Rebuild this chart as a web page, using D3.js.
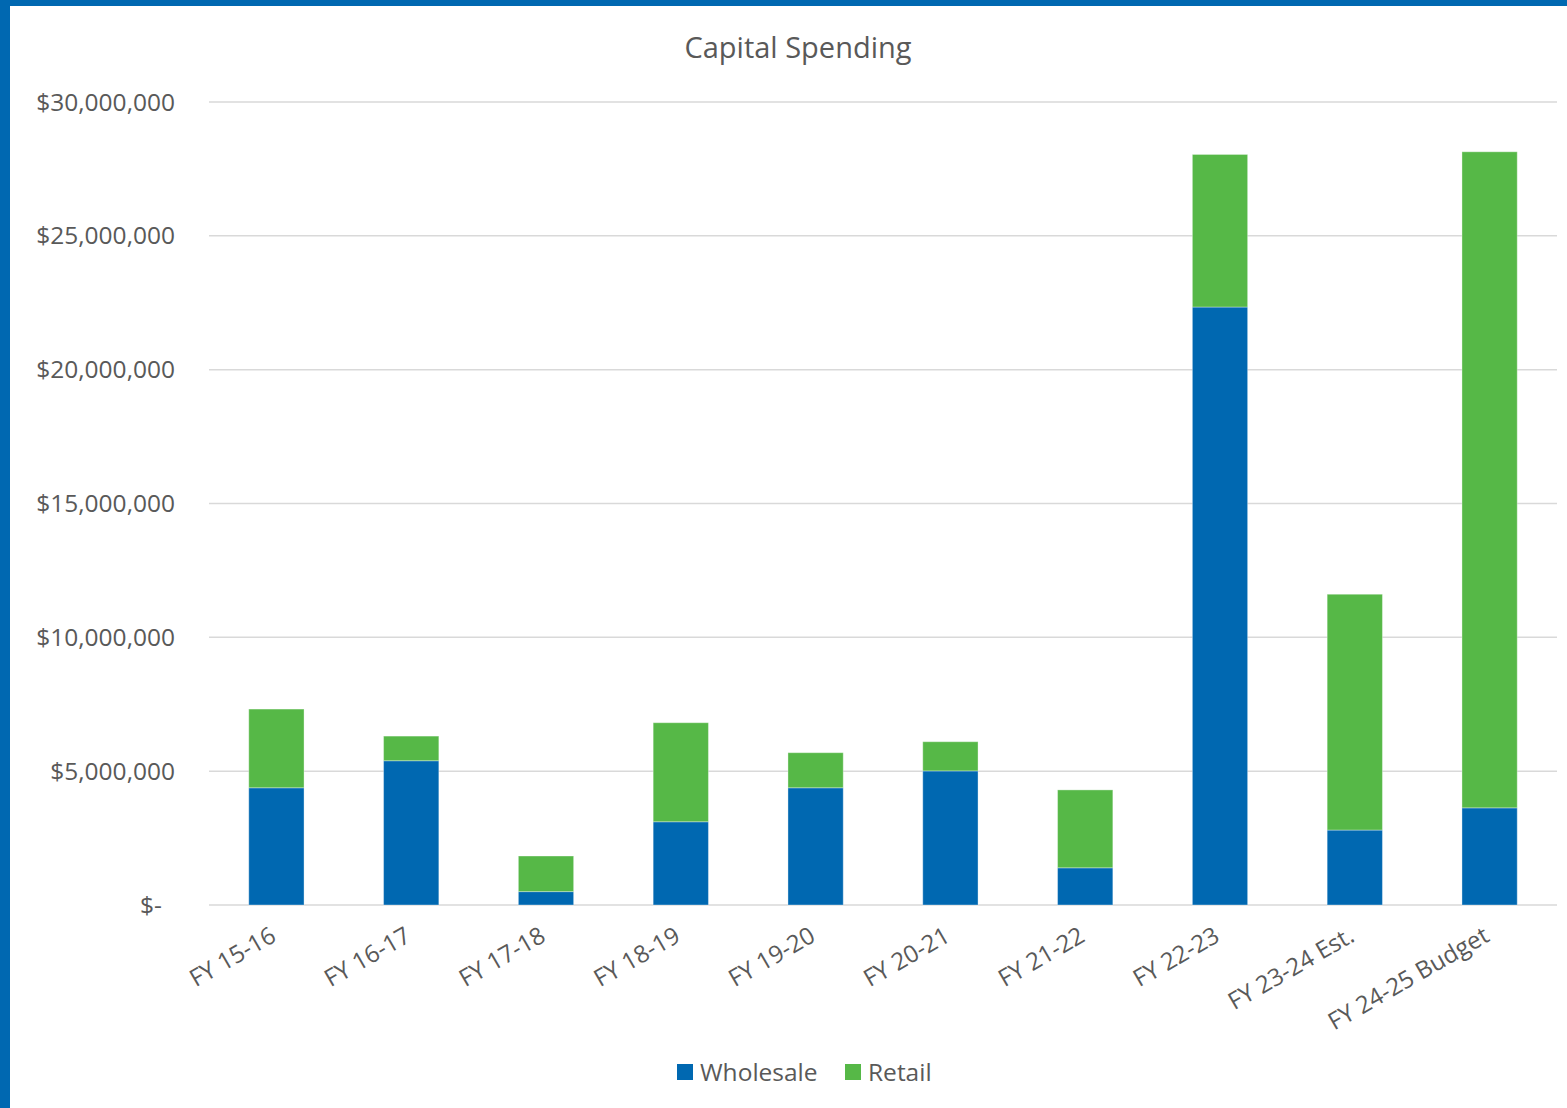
<!DOCTYPE html>
<html>
<head>
<meta charset="utf-8">
<script src="https://cdn.jsdelivr.net/npm/d3@7"></script>
<style>
  html, body { margin: 0; padding: 0; background: #fff; }
  svg { display: block; font-family: "Open Sans", sans-serif; }
</style>
</head>
<body>
<svg id="chart" width="1567" height="1108"></svg>
<script>
const categories = ["FY 15-16", "FY 16-17", "FY 17-18", "FY 18-19", "FY 19-20", "FY 20-21", "FY 21-22", "FY 22-23", "FY 23-24 Est.", "FY 24-25 Budget"];
const wholesale = [4380000, 5390000, 500000, 3110000, 4380000, 5010000, 1390000, 22340000, 2800000, 3630000];
const retail    = [2940000, 920000, 1330000, 3700000, 1310000, 1090000, 2910000, 5700000, 8810000, 24510000];
const seriesNames = ["Wholesale", "Retail"];
const yTicks = [0, 5000000, 10000000, 15000000, 20000000, 25000000, 30000000];
const title = "Capital Spending";

const colors = { Wholesale: "#0068B1", Retail: "#56B847" };
const textColor = "#595959";

const W = 1567, H = 1108;
const margin = { left: 209, right: 10, top: 102, bottom: 203 };
const svg = d3.select("#chart");

svg.append("rect").attr("x", 0).attr("y", 0).attr("width", W).attr("height", H).attr("fill", "#fff");

const x = d3.scaleBand().domain(categories).range([margin.left, W - margin.right]).paddingInner(0.59).paddingOuter(0.295);
const y = d3.scaleLinear().domain([0, 30000000]).range([H - margin.bottom, margin.top]);

// gridlines
svg.append("g").selectAll("line").data(yTicks).join("line")
  .attr("x1", margin.left).attr("x2", W - margin.right)
  .attr("y1", d => y(d)).attr("y2", d => y(d))
  .attr("stroke", "#d9d9d9").attr("stroke-width", 1.5);

// y labels
const fmt = d => d === 0 ? "$-" : "$" + d3.format(",")(d);
svg.append("g").selectAll("text").data(yTicks).join("text")
  .attr("x", d => d === 0 ? 162 : 175)
  .attr("y", d => y(d))
  .attr("dy", "0.35em")
  .attr("text-anchor", "end")
  .attr("font-size", 24.5)
  .attr("fill", textColor)
  .text(fmt);

// stacked bars
const table = categories.map((c, i) => ({ cat: c, Wholesale: wholesale[i], Retail: retail[i] }));
const stacked = d3.stack().keys(seriesNames)(table);
svg.append("g").selectAll("g").data(stacked).join("g")
  .attr("fill", d => colors[d.key])
  .selectAll("rect").data(d => d).join("rect")
  .attr("x", d => x(d.data.cat))
  .attr("width", x.bandwidth())
  .attr("y", d => y(d[1]))
  .attr("height", d => y(d[0]) - y(d[1]))
  .attr("stroke", "#ffffff").attr("stroke-opacity", 0.35).attr("stroke-width", 1);

// x labels
svg.append("g").selectAll("text").data(categories).join("text")
  .attr("transform", d => `translate(${x(d) + x.bandwidth() / 2 - 3},${y(0) + 28}) rotate(-30)`)
  .attr("text-anchor", "end")
  .attr("dy", "0.35em")
  .attr("font-size", 24)
  .attr("fill", textColor)
  .text(d => d);

// title
svg.append("text").attr("x", 798).attr("y", 58).attr("text-anchor", "middle")
  .attr("font-size", 29).attr("fill", textColor).text(title);

// legend
const legendX = [677, 845];
const lg = svg.append("g").selectAll("g").data(seriesNames).join("g")
  .attr("transform", (d, i) => `translate(${legendX[i]},1064)`);
lg.append("rect").attr("width", 16).attr("height", 16).attr("fill", d => colors[d]);
lg.append("text").attr("x", 23).attr("y", 8).attr("dy", "0.35em")
  .attr("font-size", 24.5).attr("fill", textColor).text(d => d);

// frame borders
svg.append("rect").attr("x", 0).attr("y", 0).attr("width", W).attr("height", 6).attr("fill", "#0068B1");
svg.append("rect").attr("x", 0).attr("y", 0).attr("width", 10).attr("height", H).attr("fill", "#0068B1");
</script>
</body>
</html>
